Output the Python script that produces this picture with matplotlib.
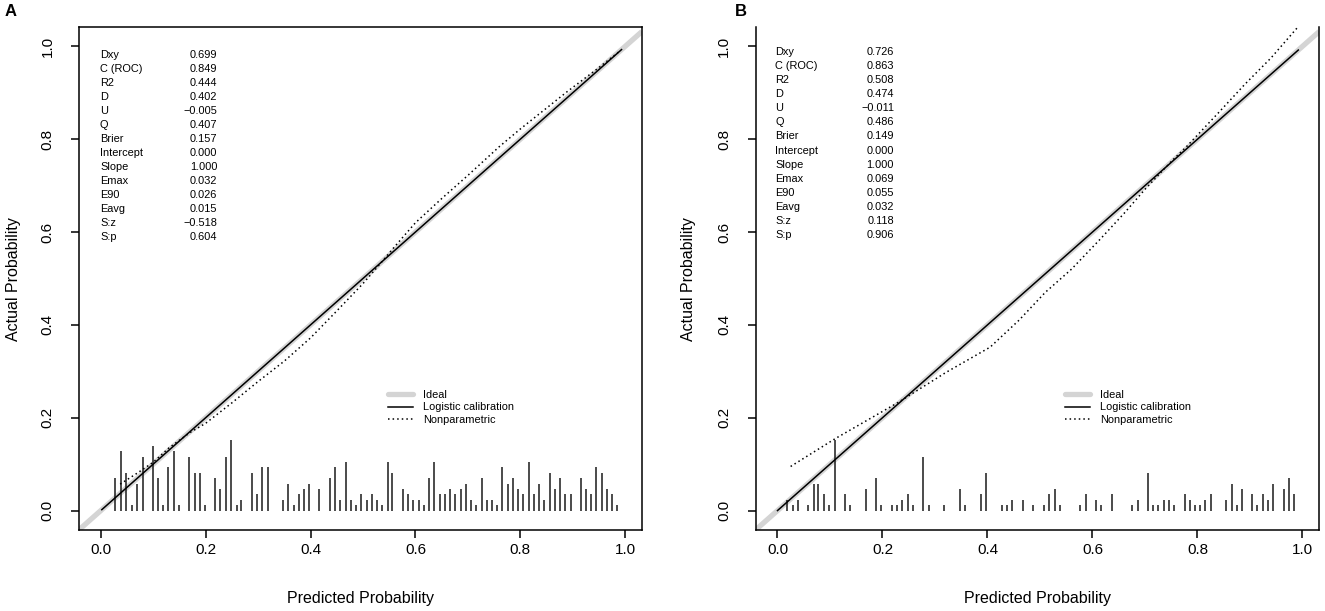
import matplotlib
matplotlib.use('Agg')
import matplotlib.pyplot as plt
from matplotlib.lines import Line2D
import numpy as np

plt.rcParams['font.family'] = ['Liberation Sans', 'DejaVu Sans']

# ---------------- data ----------------
stat_names = ["Dxy", "C (ROC)", "R2", "D", "U", "Q", "Brier", "Intercept",
              "Slope", "Emax", "E90", "Eavg", "S:z", "S:p"]
stats_a = ["0.699", "0.849", "0.444", "0.402", "\u22120.005", "0.407", "0.157",
           "0.000", "1.000", "0.032", "0.026", "0.015", "\u22120.518", "0.604"]
stats_b = ["0.726", "0.863", "0.508", "0.474", "\u22120.011", "0.486", "0.149",
           "0.000", "1.000", "0.069", "0.055", "0.032", "0.118", "0.906"]

# logistic calibration (intercept, slope) and prediction range
logit_a = (0.000, 1.000)
logit_b = (0.000, 1.000)
pred_range_a = (0.002, 0.993)
pred_range_b = (0.000, 0.992)

# nonparametric calibration curves
np_x_a = [0.037, 0.07, 0.10, 0.13, 0.17, 0.20, 0.25, 0.30, 0.35, 0.40, 0.45,
          0.50, 0.53, 0.56, 0.60, 0.65, 0.70, 0.76, 0.80, 0.85, 0.89, 0.945, 0.99]
np_y_a = [0.057, 0.081, 0.104, 0.135, 0.168, 0.188, 0.232, 0.278, 0.322, 0.372,
          0.430, 0.489, 0.528, 0.568, 0.620, 0.672, 0.722, 0.784, 0.822, 0.867,
          0.903, 0.950, 0.990]

np_x_b = [0.025, 0.11, 0.23, 0.32, 0.405, 0.46, 0.51, 0.56, 0.615, 0.66, 0.70,
          0.75, 0.78, 0.84, 0.89, 0.94, 0.99]
np_y_b = [0.095, 0.155, 0.233, 0.297, 0.352, 0.410, 0.470, 0.520, 0.585, 0.640,
          0.692, 0.752, 0.785, 0.857, 0.918, 0.975, 1.04]

# distribution of predicted risks (spike histogram): positions and counts
spike_x_a = [0.028, 0.038, 0.049, 0.060, 0.070, 0.080, 0.099, 0.109, 0.119, 0.129,
             0.140, 0.149, 0.169, 0.179, 0.189, 0.199, 0.218, 0.228, 0.239, 0.249,
             0.259, 0.268, 0.288, 0.298, 0.308, 0.318, 0.347, 0.357, 0.368, 0.378,
             0.388, 0.398, 0.417, 0.437, 0.447, 0.457, 0.467, 0.477, 0.487, 0.497,
             0.507, 0.517, 0.527, 0.537, 0.547, 0.556, 0.576, 0.586, 0.596, 0.606,
             0.616, 0.626, 0.636, 0.647, 0.656, 0.666, 0.676, 0.686, 0.696, 0.706,
             0.716, 0.726, 0.736, 0.746, 0.755, 0.766, 0.776, 0.786, 0.796, 0.806,
             0.816, 0.826, 0.836, 0.846, 0.856, 0.866, 0.875, 0.886, 0.896, 0.915,
             0.925, 0.935, 0.945, 0.955, 0.965, 0.975, 0.985]
spike_n_a = [6, 11, 7, 1, 5, 10, 12, 6, 1, 8,
             11, 1, 10, 7, 7, 1, 6, 4, 10, 13,
             1, 2, 7, 3, 8, 8, 2, 5, 1, 3,
             4, 5, 4, 6, 8, 2, 9, 2, 1, 3,
             2, 3, 2, 1, 9, 7, 4, 3, 2, 2,
             1, 6, 9, 3, 3, 4, 3, 4, 5, 2,
             1, 6, 2, 2, 1, 8, 5, 6, 4, 3,
             9, 3, 5, 2, 7, 4, 6, 3, 3, 6,
             4, 3, 8, 7, 4, 3, 1]

spike_x_b = [0.019, 0.029, 0.039, 0.059, 0.069, 0.078, 0.089, 0.099, 0.109, 0.128,
             0.139, 0.168, 0.188, 0.198, 0.218, 0.228, 0.238, 0.248, 0.258, 0.278,
             0.288, 0.318, 0.347, 0.357, 0.387, 0.397, 0.427, 0.437, 0.447, 0.467,
             0.487, 0.508, 0.518, 0.528, 0.538, 0.577, 0.587, 0.607, 0.617, 0.637,
             0.676, 0.686, 0.706, 0.716, 0.725, 0.736, 0.746, 0.756, 0.776, 0.785,
             0.795, 0.805, 0.815, 0.825, 0.855, 0.865, 0.875, 0.885, 0.904, 0.914,
             0.924, 0.934, 0.944, 0.964, 0.974, 0.984]
spike_n_b = [2, 1, 2, 1, 5, 5, 3, 1, 13, 3,
             1, 4, 6, 1, 1, 1, 2, 3, 1, 10,
             1, 1, 4, 1, 3, 7, 1, 1, 2, 2,
             1, 1, 3, 4, 1, 1, 3, 2, 1, 3,
             1, 2, 7, 1, 1, 2, 2, 1, 3, 2,
             1, 1, 2, 3, 2, 5, 1, 4, 3, 1,
             3, 2, 5, 4, 6, 3]
spike_max_height = 0.151

ticks = [0.0, 0.2, 0.4, 0.6, 0.8, 1.0]
tick_labels = ["0.0", "0.2", "0.4", "0.6", "0.8", "1.0"]

# ---------------- figure ----------------
W, H = 1325, 611
fig = plt.figure(figsize=(W / 100, H / 100), dpi=100)

def px_axes(x0, y0, x1, y1):
    return [x0 / W, 1 - y1 / H, (x1 - x0) / W, (y1 - y0) / H]

ax_a = fig.add_axes(px_axes(78.9, 27.3, 642.0, 530.3))
ax_b = fig.add_axes(px_axes(755.6, 27.3, 1319.3, 530.3))

ideal_col = '#d4d4d4'
small_fs = 7.9

def draw_panel(ax, logit, prange, npx, npy, sx, sn, top_spine=True):
    ax.set_xlim(-0.0417, 1.032)
    ax.set_ylim(-0.0425, 1.041)
    # ideal
    ax.axline((0, 0), slope=1, color=ideal_col, lw=3.8, solid_capstyle='butt', zorder=1)
    # logistic calibration
    xs = np.linspace(prange[0], prange[1], 200)
    xc = xs.clip(1e-6, 1 - 1e-6)
    lp = logit[0] + logit[1] * np.log(xc / (1 - xc))
    ys = 1 / (1 + np.exp(-lp))
    ax.plot(xs, ys, color='black', lw=1.1, zorder=3)
    # nonparametric
    ax.plot(npx, npy, color='black', lw=1.1, linestyle=(0, (1, 2)), zorder=3)
    # spikes
    hts = np.array(sn, dtype=float) / max(sn) * spike_max_height
    ax.vlines(sx, 0, hts, color='#1a1a1a', lw=1.1, zorder=2)

    for sp in ax.spines.values():
        sp.set_linewidth(1.1)
    if not top_spine:
        ax.spines['top'].set_visible(False)

    ax.set_xticks(ticks)
    ax.set_xticklabels(tick_labels)
    ax.set_yticks(ticks)
    ax.set_yticklabels(tick_labels, rotation=90, va='center')
    ax.tick_params(axis='both', direction='out', length=5.5, width=1.1, labelsize=11)
    ax.tick_params(axis='x', pad=4)
    ax.tick_params(axis='y', pad=12)

    ax.set_xlabel("Predicted Probability", fontsize=11.5)
    ax.set_ylabel("Actual Probability", fontsize=11.5)
    ax.xaxis.set_label_coords(0.5, (530.3 - 598) / 503)
    ax.xaxis.label.set_va('center')
    ax.yaxis.label.set_va('center')
    return ax

draw_panel(ax_a, logit_a, pred_range_a, np_x_a, np_y_a, spike_x_a, spike_n_a)
draw_panel(ax_b, logit_b, pred_range_b, np_x_b, np_y_b, spike_x_b, spike_n_b,
           top_spine=False)
ax_a.yaxis.set_label_coords((14 - 78.9) / 563.1, 0.5)
ax_b.yaxis.set_label_coords((688 - 755.6) / 563.7, 0.5)

def stats_block(ax, names, vals, xl, xr, y0, dy):
    for i, (n, v) in enumerate(zip(names, vals)):
        y = y0 - i * dy
        ax.text(xl, y, n, transform=ax.transAxes, fontsize=small_fs, ha='left', va='center')
        ax.text(xr, y, v, transform=ax.transAxes, fontsize=small_fs, ha='right', va='center')

stats_block(ax_a, stat_names, stats_a, (100 - 78.9) / 563.1, (217.3 - 78.9) / 563.1,
            (530.3 - 55) / 503, 14.0 / 503)
stats_block(ax_b, stat_names, stats_b, (775 - 755.6) / 563.7, (894 - 755.6) / 563.7,
            (530.3 - 52) / 503, 14.08 / 503)

handles = [Line2D([], [], color=ideal_col, lw=3.8, solid_capstyle='round'),
           Line2D([], [], color='black', lw=1.1),
           Line2D([], [], color='black', lw=1.1, linestyle=(0, (1, 2)))]
labels = ["Ideal", "Logistic calibration", "Nonparametric"]
for ax, x0 in ((ax_a, (388 - 78.9) / 563.1), (ax_b, (1065 - 755.6) / 563.7)):
    ax.legend(handles, labels, loc='upper left', bbox_to_anchor=(x0, (530.3 - 390) / 503),
              frameon=False, fontsize=small_fs, handlelength=2.3, handletextpad=0.9,
              labelspacing=0.22, borderpad=0, borderaxespad=0)

fig.text(11 / W, 1 - 12 / H, "A", fontsize=12, fontweight='bold', ha='center', va='center')
fig.text(741 / W, 1 - 12 / H, "B", fontsize=12, fontweight='bold', ha='center', va='center')

fig.savefig("out.png", dpi=100)
